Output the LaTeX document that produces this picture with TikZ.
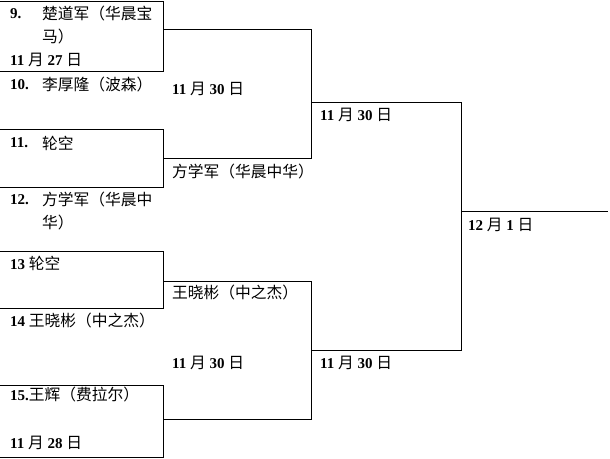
\documentclass[tikz,border=0pt]{standalone}
\usepackage{fontspec}
\setmainfont{Liberation Serif}
\newfontfamily\cjk[Scale=1.05]{Noto Sans CJK SC}
\newcommand\zh[1]{{\cjk\mdseries #1}}
\begin{document}
\begin{tikzpicture}[x=1pt,y=-1pt,
  lbl/.style={anchor=west,inner sep=0pt,font=\fontsize{15}{18}\selectfont\bfseries},
  br/.style={line width=1pt,line join=miter}]
\useasboundingbox (0,0) rectangle (610,458);
% corner coordinates
\coordinate (b1a) at (0,1);   \coordinate (b1b) at (163,1);   \coordinate (b1c) at (163,71);  \coordinate (b1d) at (0,71);
\coordinate (b2a) at (0,129); \coordinate (b2b) at (163,129); \coordinate (b2c) at (163,187); \coordinate (b2d) at (0,187);
\coordinate (b3a) at (0,251); \coordinate (b3b) at (163,251); \coordinate (b3c) at (163,308); \coordinate (b3d) at (0,308);
\coordinate (b4a) at (0,385); \coordinate (b4b) at (163,385); \coordinate (b4c) at (163,457); \coordinate (b4d) at (0,457);
\coordinate (q1a) at (163,29);  \coordinate (q1b) at (311,29);  \coordinate (q1c) at (311,158); \coordinate (q1d) at (163,158);
\coordinate (q2a) at (163,281); \coordinate (q2b) at (311,281); \coordinate (q2c) at (311,419); \coordinate (q2d) at (163,419);
\coordinate (s1a) at (311,102); \coordinate (s1b) at (461,102); \coordinate (s1c) at (461,350); \coordinate (s1d) at (311,350);
\coordinate (fa) at (461,211);  \coordinate (fb) at (608,211);
% bracket lines
\draw[br] (b1a) -- (b1b) -- (b1c) -- (b1d);
\draw[br] (b2a) -- (b2b) -- (b2c) -- (b2d);
\draw[br] (b3a) -- (b3b) -- (b3c) -- (b3d);
\draw[br] (b4a) -- (b4b) -- (b4c) -- (b4d);
\draw[br] (q1a) -- (q1b) -- (q1c) -- (q1d);
\draw[br] (q2a) -- (q2b) -- (q2c) -- (q2d);
\draw[br] (s1a) -- (s1b) -- (s1c) -- (s1d);
\draw[br] (fa) -- (fb);
% texts
\node[lbl] (n9) at (10,14) {9.};
\node[lbl] (t9) at (42,14) {\zh{楚道军（华晨宝}};
\node[lbl] (t9b) at (42,37) {\zh{马）}};
\node[lbl] (d9) at (10,60) {11 \zh{月} 27 \zh{日}};
\node[lbl] (n10) at (10,85) {10.};
\node[lbl] (t10) at (42,85) {\zh{李厚隆（波森）}};
\node[lbl] (r1d) at (172,89) {11 \zh{月} 30 \zh{日}};
\node[lbl] (n11) at (10,143) {11.};
\node[lbl] (t11) at (42,143) {\zh{轮空}};
\node[lbl] (r1w) at (172,172) {\zh{方学军（华晨中华）}};
\node[lbl] (n12) at (10,200) {12.};
\node[lbl] (t12) at (42,200) {\zh{方学军（华晨中}};
\node[lbl] (t12b) at (42,223) {\zh{华）}};
\node[lbl] (n13) at (10,263) {13 \zh{轮空}};
\node[lbl] (r2w) at (172,293) {\zh{王晓彬（中之杰）}};
\node[lbl] (n14) at (10,321) {14 \zh{王晓彬（中之杰）}};
\node[lbl] (r2d) at (172,363) {11 \zh{月} 30 \zh{日}};
\node[lbl] (n15) at (10,395) {15.\zh{王辉（费拉尔）}};
\node[lbl] (d15) at (10,443) {11 \zh{月} 28 \zh{日}};
\node[lbl] (sd1) at (320,115) {11 \zh{月} 30 \zh{日}};
\node[lbl] (fd) at (468,225) {12 \zh{月} 1 \zh{日}};
\node[lbl] (sd2) at (320,363) {11 \zh{月} 30 \zh{日}};
\end{tikzpicture}
\end{document}
